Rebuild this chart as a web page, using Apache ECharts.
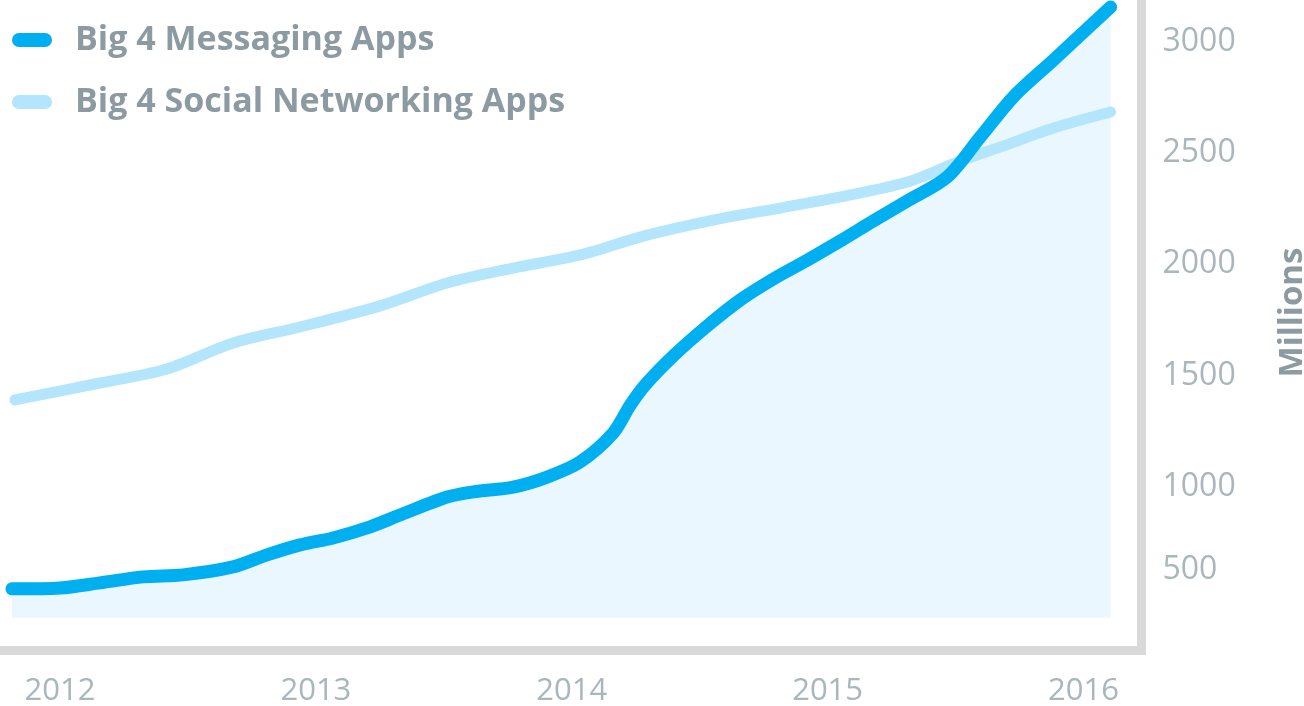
<!DOCTYPE html>
<html>
<head>
<meta charset="utf-8">
<script src="https://cdn.jsdelivr.net/npm/echarts@6.0.0/dist/echarts.min.js"></script>
<style>
html,body{margin:0;padding:0;background:#fff;}
#chart{width:1304px;height:706px;}
</style>
</head>
<body>
<div id="chart"></div>
<script>
// Series names
const seriesNames = ['Big 4 Messaging Apps', 'Big 4 Social Networking Apps'];

// Big 4 Messaging Apps: [year (decimal), users in millions]
const messagingYears = [2011.812, 2012.0, 2012.156, 2012.325, 2012.481, 2012.676, 2012.809, 2012.938, 2013.067, 2013.2, 2013.329, 2013.513, 2013.615, 2013.771, 2013.904, 2014.033, 2014.162, 2014.229, 2014.287, 2014.397, 2014.530, 2014.659, 2014.788, 2014.921, 2015.050, 2015.179, 2015.312, 2015.468, 2015.597, 2015.726, 2015.883, 2016.106];
const messagingValues = [540, 544, 567, 594, 603, 639, 693, 738, 769, 814, 872, 953, 976, 998, 1043, 1111, 1241, 1367, 1457, 1588, 1723, 1840, 1934, 2019, 2105, 2195, 2285, 2393, 2573, 2753, 2919, 3157];

// Big 4 Social Networking Apps
const socialYears = [2011.824, 2012.156, 2012.418, 2012.676, 2012.938, 2013.251, 2013.513, 2013.771, 2014.033, 2014.280, 2014.553, 2014.815, 2015.050, 2015.312, 2015.519, 2015.676, 2015.883, 2016.106];
const socialValues = [1390, 1466, 1529, 1646, 1718, 1813, 1916, 1983, 2042, 2127, 2199, 2253, 2303, 2370, 2465, 2528, 2613, 2685];

// Tick labels
const xTickYears = [2012, 2013, 2014, 2015, 2016];
const yTickValues = [500, 1000, 1500, 2000, 2500, 3000];

const messagingData = messagingYears.map((y, i) => [y, messagingValues[i]]);
const socialData = socialYears.map((y, i) => [y, socialValues[i]]);

const chart = echarts.init(document.getElementById('chart'), null, {renderer: 'canvas'});

const FONT = '"Open Sans", "Noto Sans", sans-serif';
const frameColor = '#d9d9d9';
const labelColor = '#a9b6bb';
const darkLabel = '#8c9aa1';

chart.setOption({
  animation: false,
  backgroundColor: '#ffffff',
  textStyle: {fontFamily: FONT},
  legend: {
    data: seriesNames,
    orient: 'vertical',
    left: 7,
    top: 17,
    itemWidth: 40,
    itemHeight: 14,
    itemGap: 26,
    icon: 'path://M7,0 L33,0 A7,7 0 0 1 33,14 L7,14 A7,7 0 0 1 7,0 Z',
    textStyle: {
      fontFamily: FONT,
      fontSize: 34,
      fontWeight: 'bold',
      color: darkLabel,
      lineHeight: 36,
      padding: [0, 0, 0, 18]
    },
    selectedMode: false
  },
  grid: {
    left: 0,
    right: 162.5,
    top: 3,
    bottom: 56,
    containLabel: false,
    outerBoundsMode: 'none'
  },
  xAxis: {
    type: 'value',
    min: 2011.7654,
    max: 2016.2268,
    splitLine: {show: false},
    axisTick: {show: false},
    axisLine: {show: true, lineStyle: {color: frameColor, width: 9, cap: 'square'}},
    axisLabel: {
      customValues: xTickYears,
      formatter: v => String(v),
      color: labelColor,
      fontFamily: FONT,
      fontSize: 31,
      margin: 26
    }
  },
  yAxis: {
    type: 'value',
    position: 'right',
    min: 265,
    max: 3175.4,
    name: 'Millions',
    nameLocation: 'middle',
    nameRotate: 90,
    nameGap: 135,
    nameTextStyle: {
      color: darkLabel,
      fontFamily: FONT,
      fontSize: 33,
      fontWeight: 'bold',
      padding: [0, 0, 0, 28]
    },
    splitLine: {show: false},
    axisTick: {show: false},
    axisLine: {show: true, lineStyle: {color: frameColor, width: 9, cap: 'square'}},
    axisLabel: {
      customValues: yTickValues,
      formatter: v => (v === 500 ? '{up|' + v + '}' : '{n|' + v + '}'),
      color: labelColor,
      fontFamily: FONT,
      fontSize: 32,
      margin: 21,
      rich: {
        n: {fontSize: 32, color: labelColor, fontFamily: FONT},
        up: {fontSize: 32, color: labelColor, fontFamily: FONT, padding: [0, 0, 56, 0]}
      }
    }
  },
  series: [
    {
      type: 'line',
      data: messagingData,
      smooth: 0.3,
      showSymbol: false,
      silent: true,
      z: 1,
      lineStyle: {width: 0},
      areaStyle: {color: '#eaf7fe', opacity: 1, origin: 410}
    },
    {
      name: seriesNames[1],
      type: 'line',
      data: socialData,
      smooth: 0.3,
      showSymbol: false,
      z: 2,
      color: '#b3e5fc',
      lineStyle: {width: 11, color: '#b3e5fc', cap: 'round', join: 'round'}
    },
    {
      name: seriesNames[0],
      type: 'line',
      data: messagingData,
      smooth: 0.3,
      showSymbol: false,
      z: 3,
      color: '#00aff0',
      lineStyle: {width: 13, color: '#00aff0', cap: 'round', join: 'round'}
    }
  ]
});
</script>
</body>
</html>
